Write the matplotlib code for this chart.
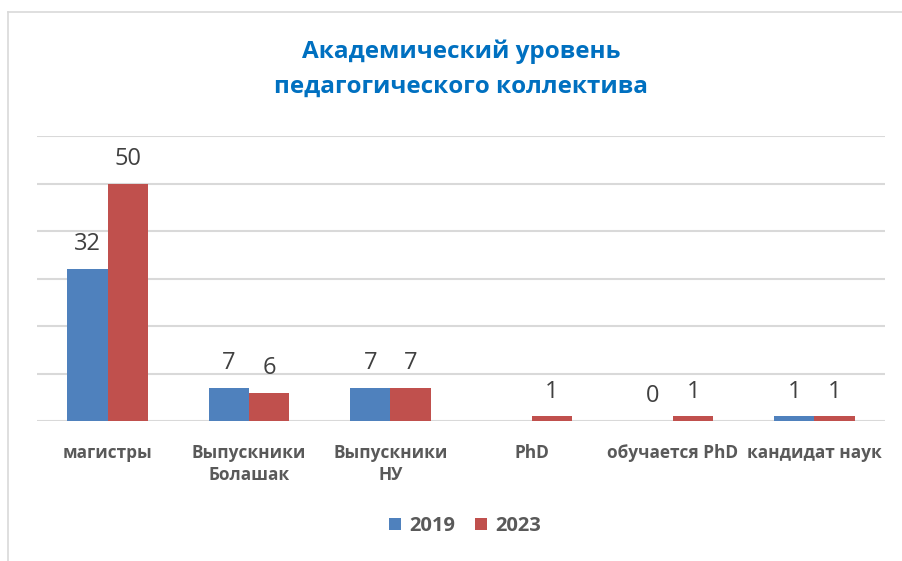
import matplotlib.pyplot as plt
import numpy as np

# данные с диаграммы
categories = ["магистры", "Выпускники\nБолашак", "Выпускники\nНУ", "PhD",
              "обучается PhD", "кандидат наук"]
v2019 = [32, 7, 7, np.nan, 0, 1]
v2023 = [50, 6, 7, 1, 1, 1]
years = ["2019", "2023"]

blue = "#4F81BD"
red = "#C0504D"
plt.rcParams['font.family'] = ['Open Sans', 'DejaVu Sans']

fig = plt.figure(figsize=(9.02, 5.61), dpi=100)
ax = fig.add_axes([37 / 902, 1 - 421 / 561, 848 / 902, 285 / 561])

x = np.arange(len(categories))
w = 0.285
b1 = ax.bar(x - w / 2, v2019, w, color=blue, label=years[0], zorder=3)
b2 = ax.bar(x + w / 2, v2023, w, color=red, label=years[1], zorder=3)

for bars, vals in [(b1, v2019), (b2, v2023)]:
    for rect, v in zip(bars, vals):
        if np.isnan(v):
            continue
        ax.annotate(f"{int(v)}", (rect.get_x() + rect.get_width() / 2, v),
                    xytext=(0, 9), textcoords="offset points",
                    ha="center", va="bottom", fontsize=17, color="#404040")

ax.set_xlim(-0.5, len(categories) - 0.5)
ax.set_ylim(0, 60)
ax.set_yticks(range(0, 61, 10))
ax.yaxis.grid(True, color="#D9D9D9", linewidth=1.5, zorder=0)
ax.tick_params(left=False, bottom=False, labelleft=False)
for s in ax.spines.values():
    s.set_visible(False)
ax.set_xticks(x)
ax.set_xticklabels(categories, fontsize=12.4, fontweight="bold", color="#595959",
                   linespacing=1.3)
ax.tick_params(axis="x", pad=13)

fig.text(0.511, 1 - 69 / 561, "Академический уровень\nпедагогического коллектива",
         ha="center", va="center", fontsize=17.5, fontweight="bold", color="#0070C0",
         linespacing=1.6)

fig.legend(loc="center", bbox_to_anchor=(465 / 902, 1 - 526 / 561), ncol=2,
           frameon=False, handlelength=0.6, handleheight=0.6, handletextpad=0.4,
           columnspacing=1.0, prop={"size": 14.5, "weight": "bold"},
           labelcolor="#595959")

# рамка слева и сверху
fig.add_artist(plt.Line2D([8 / 902, 8 / 902], [0, 1 - 12 / 561],
                          color="#D9D9D9", linewidth=1.2))
fig.add_artist(plt.Line2D([8 / 902, 1], [1 - 12 / 561, 1 - 12 / 561],
                          color="#D9D9D9", linewidth=1.2))

plt.savefig("out.png", dpi=100)
